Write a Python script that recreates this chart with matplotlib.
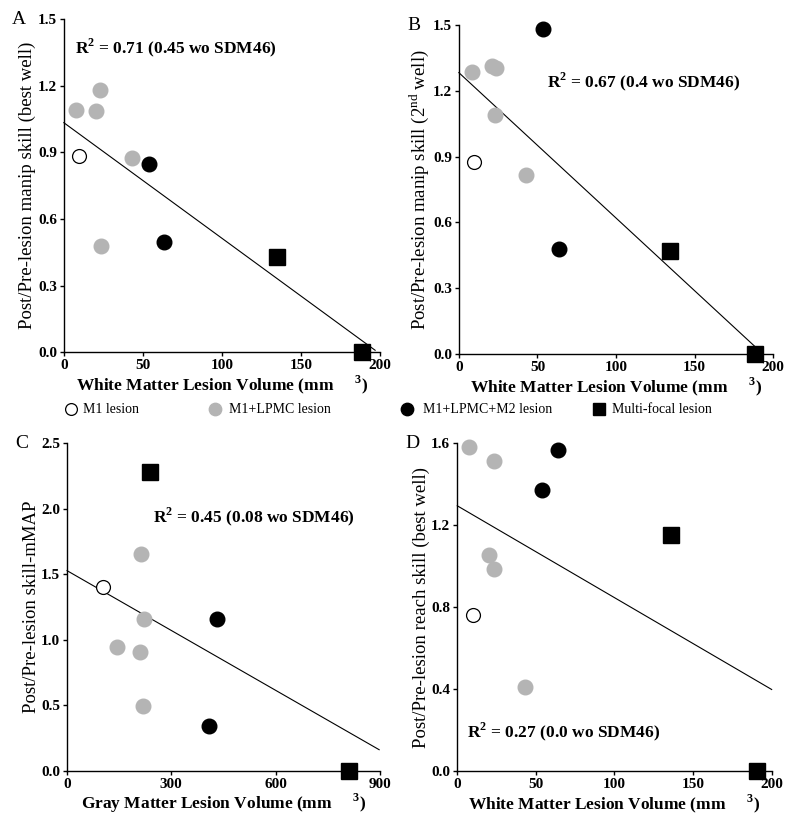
import matplotlib
matplotlib.use('Agg')

import matplotlib.pyplot as plt
import numpy as np
from matplotlib.lines import Line2D

plt.rcParams['font.family'] = ['Liberation Serif', 'DejaVu Serif']
plt.rcParams['mathtext.fontset'] = 'custom'
plt.rcParams['mathtext.rm'] = 'Liberation Serif'
plt.rcParams['mathtext.bf'] = 'Liberation Serif:bold'

# lesion groups, same order in every panel
groups = ["M1 lesion", "M1+LPMC lesion", "M1+LPMC+M2 lesion", "Multi-focal lesion"]

# Panel A: white matter vs manip skill (best well)
a_m1_x, a_m1_y = [9.5], [0.885]
a_lpmc_x = [8, 20.6, 23, 43, 23.3]
a_lpmc_y = [1.09, 1.086, 1.18, 0.874, 0.477]
a_m2_x, a_m2_y = [53.6, 63.4], [0.85, 0.498]
a_multi_x, a_multi_y = [134.7, 189], [0.429, 0.0]
a_fit = (1.034, -0.0052, 197)   # intercept, slope, end x

# Panel B: white matter vs manip skill (2nd well)
b_m1_x, b_m1_y = [9.9], [0.874]
b_lpmc_x = [8.2, 21.1, 23.6, 23, 43]
b_lpmc_y = [1.287, 1.315, 1.302, 1.091, 0.816]
b_m2_x, b_m2_y = [53.6, 63.5], [1.48, 0.477]
b_multi_x, b_multi_y = [134, 188.4], [0.47, 0.0]
b_fit = (1.283, -0.00663, 190)

# Panel C: gray matter vs mMAP
c_m1_x, c_m1_y = [104], [1.401]
c_lpmc_x = [214, 221, 144.6, 208.7, 218]
c_lpmc_y = [1.656, 1.16, 0.944, 0.908, 0.496]
c_m2_x, c_m2_y = [431.8, 408.8], [1.16, 0.338]
c_multi_x, c_multi_y = [237.4, 810], [2.284, 0.0]
c_fit = (1.528, -0.001523, 898)

# Panel D: white matter vs reach skill (best well)
d_m1_x, d_m1_y = [9.8], [0.763]
d_lpmc_x = [7.7, 23.4, 20.4, 23.4, 43.2]
d_lpmc_y = [1.581, 1.514, 1.053, 0.986, 0.411]
d_m2_x, d_m2_y = [64.3, 53.8], [1.566, 1.373]
d_multi_x, d_multi_y = [135.7, 190.6], [1.150, 0.0]
d_fit = (1.295, -0.00449, 200)

GRAY = '#b4b4b4'
styles = [
    dict(marker='o', mfc='white', mec='black', mew=0.9, ms=10),
    dict(marker='o', mfc=GRAY, mec=GRAY, ms=10.5),
    dict(marker='o', mfc='black', mec='black', ms=10.5),
    dict(marker='s', mfc='black', mec='black', ms=11),
]

wm_label = 'White Matter Lesion Volume (mm     $^{\\mathbf{3}}$)'
gm_label = 'Gray Matter Lesion Volume (mm     $^{\\mathbf{3}}$)'

panels = [
    dict(rect=[0.080, 0.578, 0.396, 0.399], letter='A',
         pts=[(a_m1_x, a_m1_y), (a_lpmc_x, a_lpmc_y), (a_m2_x, a_m2_y), (a_multi_x, a_multi_y)],
         fit=a_fit, xlim=(0, 200), xticks=[0, 50, 100, 150, 200],
         ylim=(0, 1.5), yticks=[0.0, 0.3, 0.6, 0.9, 1.2, 1.5],
         xlabel=wm_label, ylabel='Post/Pre-lesion manip skill (best well)',
         r2='R$^{\\mathbf{2}}$ = 0.71 (0.45 wo SDM46)', r2pos=(75, 48)),
    dict(rect=[0.575, 0.576, 0.394, 0.394], letter='B',
         pts=[(b_m1_x, b_m1_y), (b_lpmc_x, b_lpmc_y), (b_m2_x, b_m2_y), (b_multi_x, b_multi_y)],
         fit=b_fit, xlim=(0, 200), xticks=[0, 50, 100, 150, 200],
         ylim=(0, 1.5), yticks=[0.0, 0.3, 0.6, 0.9, 1.2, 1.5],
         xlabel=wm_label, ylabel='Post/Pre-lesion manip skill (2$^{\\mathrm{nd}}$ well)',
         r2='R$^{\\mathbf{2}}$ = 0.67 (0.4 wo SDM46)', r2pos=(547, 82)),
    dict(rect=[0.084, 0.077, 0.392, 0.392], letter='C',
         pts=[(c_m1_x, c_m1_y), (c_lpmc_x, c_lpmc_y), (c_m2_x, c_m2_y), (c_multi_x, c_multi_y)],
         fit=c_fit, xlim=(0, 900), xticks=[0, 300, 600, 900],
         ylim=(0, 2.5), yticks=[0.0, 0.5, 1.0, 1.5, 2.0, 2.5],
         xlabel=gm_label, ylabel='Post/Pre-lesion skill-mMAP',
         r2='R$^{\\mathbf{2}}$ = 0.45 (0.08 wo SDM46)', r2pos=(153, 517)),
    dict(rect=[0.573, 0.077, 0.394, 0.392], letter='D',
         pts=[(d_m1_x, d_m1_y), (d_lpmc_x, d_lpmc_y), (d_m2_x, d_m2_y), (d_multi_x, d_multi_y)],
         fit=d_fit, xlim=(0, 200), xticks=[0, 50, 100, 150, 200],
         ylim=(0, 1.6), yticks=[0.0, 0.4, 0.8, 1.2, 1.6],
         xlabel=wm_label, ylabel='Post/Pre-lesion reach skill (best well)',
         r2='R$^{\\mathbf{2}}$ = 0.27 (0.0 wo SDM46)', r2pos=(467, 732)),
]

W, H = 798, 835
fig = plt.figure(figsize=(W / 100, H / 100), dpi=100)

for p in panels:
    ax = fig.add_axes(p['rect'])
    for (xs, ys), st in zip(p['pts'], styles):
        ax.plot(xs, ys, ls='none', clip_on=False, zorder=3, **st)
    b0, b1, xe = p['fit']
    fx = np.array([0, xe])
    ax.plot(fx, b0 + b1 * fx, color='black', lw=0.8, clip_on=False, zorder=2)

    ax.set_xlim(*p['xlim'])
    ax.set_ylim(*p['ylim'])
    ax.set_xticks(p['xticks'])
    ax.set_yticks(p['yticks'])
    ax.set_yticklabels([f'{v:.1f}' for v in p['yticks']])
    ax.spines['top'].set_visible(False)
    ax.spines['right'].set_visible(False)
    for s in ('left', 'bottom'):
        ax.spines[s].set_linewidth(1.0)
    ax.tick_params(direction='out', length=3, width=1, pad=2, labelsize=11)
    for lab in ax.get_xticklabels() + ax.get_yticklabels():
        lab.set_fontweight('bold')
    ax.set_xlabel(p['xlabel'], fontsize=12.5, fontweight='bold', labelpad=1)
    ax.set_ylabel(p['ylabel'], fontsize=13.5, labelpad=1)

    ax.text(-0.165, 1.0, p['letter'], transform=ax.transAxes, fontsize=14,
            va='center', ha='left')
    fig.text(p['r2pos'][0] / W, 1 - p['r2pos'][1] / H, p['r2'],
             fontsize=12.5, fontweight='bold', va='center', ha='left')

# legend row between the panels
leg_marker_x = [71, 215, 407, 599]
leg_text_x = [83, 229, 423, 612]
leg_y = 409
for name, st, mx, tx in zip(groups, styles, leg_marker_x, leg_text_x):
    fig.add_artist(Line2D([mx / W], [1 - leg_y / H], transform=fig.transFigure,
                          ls='none', **{**st, 'ms': st['ms'] * 0.85}))
    fig.text(tx / W, 1 - leg_y / H, name, fontsize=10, va='center', ha='left')

fig.savefig('out.png', dpi=100)
